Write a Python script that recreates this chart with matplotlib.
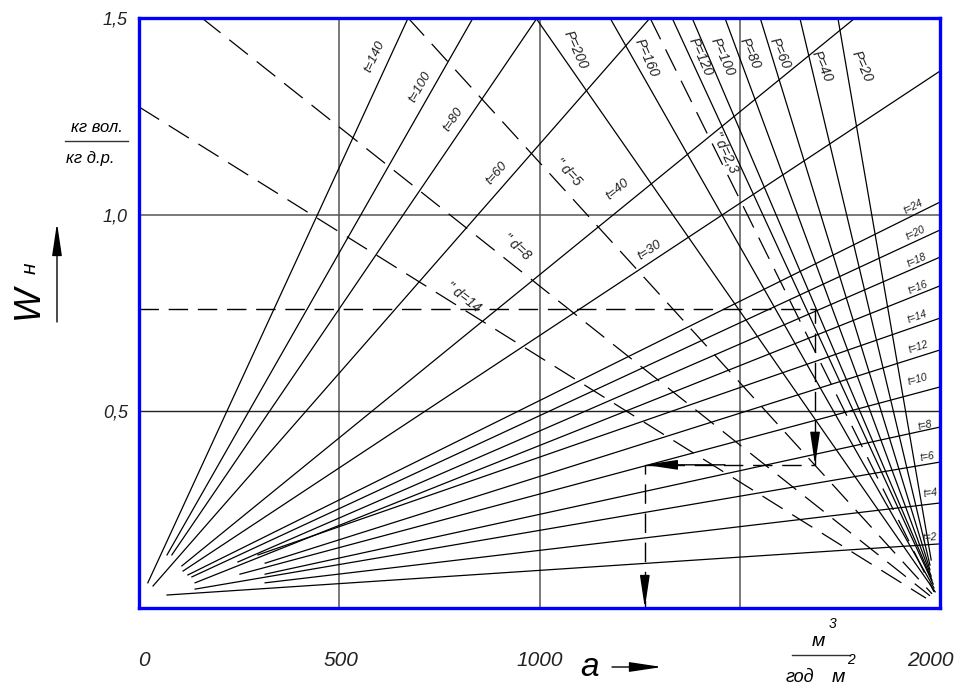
import math
import matplotlib
matplotlib.use('Agg')
import matplotlib.pyplot as plt
import matplotlib.transforms as mtransforms
from matplotlib import font_manager

available = {f.name for f in font_manager.fontManager.ttflist}
FONT = next((f for f in ['Liberation Sans Narrow', 'DejaVu Sans Condensed', 'Liberation Sans']
             if f in available), 'DejaVu Sans')
plt.rcParams['font.family'] = [FONT, 'DejaVu Sans']
plt.rcParams['font.style'] = 'italic'

# --- t lines (solid, fan from lower left) ---
t_values = [140, 100, 80, 60, 40, 30, 24, 20, 18, 16, 14, 12, 10, 8, 6, 4, 2]
t_a0 = [22, 70, 82, 35, 107, 110, 122, 132, 247, 140, 297, 315, 252, 315, 140, 315, 70]
t_w0 = [0.064, 0.135, 0.135, 0.056, 0.107, 0.094, 0.084, 0.079, 0.117, 0.064,
        0.135, 0.114, 0.086, 0.086, 0.048, 0.064, 0.033]
t_a1 = [672, 834, 994, 1276, 1788, 2000, 2000, 2000, 2000, 2000, 2000, 2000,
        2000, 2000, 2000, 2000, 2000]
t_w1 = [1.5, 1.5, 1.5, 1.5, 1.5, 1.365, 1.032, 0.961, 0.892, 0.819, 0.737,
        0.656, 0.562, 0.460, 0.371, 0.267, 0.163]
t_lab_a = [589, 702, 784, 894, 1196, 1276, 1933, 1938, 1943, 1945, 1943, 1945,
           1945, 1963, 1968, 1975, 1975]
t_lab_w = [1.401, 1.325, 1.241, 1.106, 1.063, 0.910, 1.020, 0.953, 0.885, 0.816,
           0.740, 0.664, 0.580, 0.465, 0.384, 0.292, 0.178]

# --- P lines (solid, fan to lower right) ---
p_values = [200, 160, 120, 100, 80, 60, 40, 20]
p_a0 = [991, 1176, 1331, 1381, 1463, 1551, 1650, 1745]
p_w0 = [1.5] * 8
p_a1 = [1988, 1985, 1983, 1980, 1978, 1975, 1975, 1978]
p_w1 = [0.041, 0.051, 0.061, 0.071, 0.081, 0.097, 0.109, 0.122]
p_lab_a = [1089, 1268, 1401, 1456, 1526, 1601, 1705, 1805]
p_lab_w = [1.419, 1.398, 1.401, 1.401, 1.411, 1.411, 1.376, 1.376]

# --- d lines (dashed) ---
d_values = ['2,3', '5', '8', '14']
d_a0 = [1276, 672, 157, 0]
d_w0 = [1.5, 1.5, 1.5, 1.274]
d_a1 = [1985, 1980, 1975, 1965]
d_w1 = [0.041, 0.036, 0.031, 0.025]
d_lab_a = [1463, 1071, 944, 809]
d_lab_w = [1.159, 1.109, 0.918, 0.791]
d_lab_rot = [-65, -47, -42, -38]

# --- worked example path ---
guide_a = [0, 1688, 1688, 1263, 1263]
guide_w = [0.760, 0.760, 0.364, 0.364, 0.0]

x_ticks = [0, 500, 1000, 2000]
x_ticklabels = ['0', '500', '1000', '2000']
x_label_shift = [5, 2, 0, -10]   # px, hand-lettered labels sit slightly off the ticks
y_ticks = [0.5, 1.0, 1.5]
y_ticklabels = ['0,5', '1,0', '1,5']

W, H = 960, 686
fig = plt.figure(figsize=(9.6, 6.86), dpi=100)
fig.patch.set_facecolor('white')
ax = fig.add_axes([139 / W, 1 - 608 / H, 801 / W, 590 / H])
ax.set_xlim(0, 2000)
ax.set_ylim(0, 1.5)

for a in [500, 1000, 1500]:
    ax.axvline(a, color='#555555', lw=1.1, zorder=1)
ax.axhline(1.0, color='#555555', lw=1.1, zorder=1)
ax.axhline(0.5, color='#222222', lw=1.0, zorder=1)


def screen_angle(x0, y0, x1, y1):
    p0 = ax.transData.transform((x0, y0))
    p1 = ax.transData.transform((x1, y1))
    ang = math.degrees(math.atan2(p1[1] - p0[1], p1[0] - p0[0]))
    if ang > 90:
        ang -= 180
    if ang < -90:
        ang += 180
    return ang


for i, t in enumerate(t_values):
    ax.plot([t_a0[i], t_a1[i]], [t_w0[i], t_w1[i]], color='black', lw=0.9, zorder=3)
    rot = screen_angle(t_a0[i], t_w0[i], t_a1[i], t_w1[i])
    fs = 9.5 if t >= 30 else 7.5
    ax.text(t_lab_a[i], t_lab_w[i], f't={t}', rotation=rot, fontsize=fs,
            ha='center', va='center', rotation_mode='anchor', color='#222222', zorder=4)

for i, p in enumerate(p_values):
    ax.plot([p_a0[i], p_a1[i]], [p_w0[i], p_w1[i]], color='black', lw=0.9, zorder=3)
    ax.text(p_lab_a[i], p_lab_w[i], f'P={p}', rotation=-66, fontsize=10,
            ha='center', va='center', rotation_mode='anchor', color='#222222', zorder=4)

for i, d in enumerate(d_values):
    ax.plot([d_a0[i], d_a1[i]], [d_w0[i], d_w1[i]], color='black', lw=0.9,
            dashes=(19, 9), zorder=3)
    ax.text(d_lab_a[i], d_lab_w[i], f'" d={d}', rotation=d_lab_rot[i], fontsize=10,
            ha='center', va='center', rotation_mode='anchor', color='#222222', zorder=4)

ax.plot(guide_a, guide_w, color='black', lw=1.0, dashes=(14, 7), zorder=3)
arrow_kw = dict(arrowstyle='-|>,head_length=2.0,head_width=0.3', color='black',
                lw=1.0, mutation_scale=10, shrinkA=0, shrinkB=0)
ax.annotate('', xy=(guide_a[2], guide_w[2]), xytext=(guide_a[2], guide_w[2] + 0.08),
            arrowprops=arrow_kw, zorder=5)
ax.annotate('', xy=(guide_a[3], guide_w[3]), xytext=(guide_a[3] + 200, guide_w[3]),
            arrowprops=arrow_kw, zorder=5)
ax.annotate('', xy=(guide_a[4], guide_w[4]), xytext=(guide_a[4], guide_w[4] + 0.08),
            arrowprops=arrow_kw, zorder=5)

for s in ax.spines.values():
    s.set_color('#0000ff')
    s.set_linewidth(2.4)
    s.set_zorder(6)

ax.set_xticks(x_ticks, labels=x_ticklabels)
ax.set_yticks(y_ticks, labels=y_ticklabels)
ax.tick_params(axis='x', length=0, pad=31, labelsize=15, labelcolor='#222222')
ax.tick_params(axis='y', length=0, pad=8, labelsize=13, labelcolor='#222222')
for lab, dx in zip(ax.get_xticklabels(), x_label_shift):
    lab.set_transform(lab.get_transform()
                      + mtransforms.ScaledTranslation(dx / 100, 0, fig.dpi_scale_trans))


def fx(px):
    return px / W


def fy(py):
    return 1 - py / H


# y axis title and units
fig.text(fx(28), fy(302), 'W', rotation=90, fontsize=26, ha='center', va='center')
fig.text(fx(30), fy(268), 'н', rotation=90, fontsize=15, ha='center', va='center')
ax.annotate('', xy=(fx(57), fy(223)), xytext=(fx(57), fy(322)), xycoords='figure fraction',
            textcoords='figure fraction',
            arrowprops=dict(arrowstyle='-|>,head_length=2.0,head_width=0.3', color='black',
                            lw=1.0, mutation_scale=10, shrinkA=0, shrinkB=0))
fig.text(fx(97), fy(128), 'кг вол.', fontsize=12, ha='center', va='center')
fig.add_artist(plt.Line2D([fx(65), fx(128)], [fy(141), fy(141)], color='#333333', lw=1.0))
fig.text(fx(90), fy(158), 'кг д.р.', fontsize=12, ha='center', va='center')

# x axis title and units
fig.text(fx(590), fy(668), 'a', fontsize=24, ha='center', va='center')
ax.annotate('', xy=(fx(662), fy(667)), xytext=(fx(612), fy(667)), xycoords='figure fraction',
            textcoords='figure fraction',
            arrowprops=dict(arrowstyle='-|>,head_length=2.0,head_width=0.3', color='black',
                            lw=1.0, mutation_scale=10, shrinkA=0, shrinkB=0))
fig.text(fx(818), fy(642), 'м', fontsize=14, ha='center', va='center')
fig.text(fx(833), fy(624), '3', fontsize=10, ha='center', va='center')
fig.add_artist(plt.Line2D([fx(792), fx(850)], [fy(655), fy(655)], color='#333333', lw=1.0))
fig.text(fx(800), fy(677), 'год', fontsize=13, ha='center', va='center')
fig.text(fx(838), fy(677), 'м', fontsize=14, ha='center', va='center')
fig.text(fx(851), fy(660), '2', fontsize=10, ha='center', va='center')

fig.savefig('out.png', dpi=100, facecolor='white')
